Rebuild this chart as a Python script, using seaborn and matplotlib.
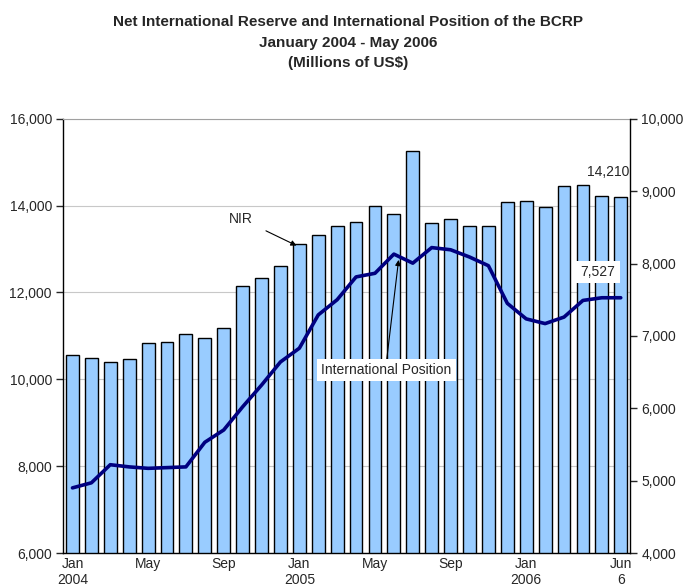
import pandas as pd
import matplotlib
matplotlib.use("Agg")
import matplotlib.pyplot as plt
import seaborn as sns

# Data
months = ["Jan", "Feb", "Mar", "Apr", "May", "Jun", "Jul", "Aug", "Sep", "Oct", "Nov", "Dec",
          "Jan", "Feb", "Mar", "Apr", "May", "Jun", "Jul", "Aug", "Sep", "Oct", "Nov", "Dec",
          "Jan", "Feb", "Mar", "Apr", "May", "Jun"]
years = [2004] * 12 + [2005] * 12 + [2006] * 6
nir = [10560, 10500, 10410, 10470, 10830, 10860, 11040, 10960, 11190, 12150, 12340, 12610,
       13120, 13330, 13540, 13630, 13990, 13810, 15260, 13600, 13700, 13540, 13540, 14080,
       14110, 13960, 14450, 14470, 14230, 14210]
intl_position = [4900, 4970, 5220, 5190, 5170, 5180, 5190, 5530, 5700, 6020, 6320, 6640,
                 6830, 7290, 7500, 7815, 7865, 8130, 8005, 8220, 8190, 8090, 7970, 7450,
                 7235, 7170, 7260, 7490, 7527, 7527]
tick_pos = [0, 4, 8, 12, 16, 20, 24, 29]
tick_labels = ["Jan\n2004", "May", "Sep", "Jan\n2005", "May", "Sep", "Jan\n2006", "Jun\n6"]

df = pd.DataFrame({"idx": range(len(nir)), "month": months, "year": years,
                   "nir": nir, "ip": intl_position})

sns.set_style("white")
plt.rcParams["font.family"] = ["Liberation Sans", "DejaVu Sans"]

fig = plt.figure(figsize=(6.85, 5.88), dpi=100)
ax = fig.add_axes([0.092, 0.0595, 0.828, 0.7385])

sns.barplot(data=df, x="idx", y="nir", color="#99CCFF", edgecolor="black",
            linewidth=1, width=0.68, saturation=1, ax=ax, zorder=2)
ax.set_ylim(6000, 16000)
ax.set_yticks(range(6000, 16001, 2000))
ax.set_yticklabels([f"{v:,}" for v in range(6000, 16001, 2000)], fontsize=10)
ax.yaxis.grid(True, color="#C8C8C8", linewidth=0.8, zorder=0)
ax.set_axisbelow(True)
ax.set_xlim(-0.5, len(nir) - 0.5)
ax.set_xticks(tick_pos)
ax.set_xticklabels(tick_labels, fontsize=10, linespacing=1.2)
ax.tick_params(axis="x", length=0, pad=3)
ax.tick_params(axis="y", length=5, width=1, direction="out", left=True, pad=3)
ax.set_xlabel("")
ax.set_ylabel("")
for s in ["left", "bottom"]:
    ax.spines[s].set_color("black")
    ax.spines[s].set_linewidth(1)
ax.spines["top"].set_color("#A0A0A0")
ax.spines["right"].set_visible(False)

ax2 = ax.twinx()
sns.lineplot(data=df, x="idx", y="ip", color="#000080", linewidth=2.6, ax=ax2, zorder=3)
ax2.set_ylim(4000, 10000)
ax2.set_yticks(range(4000, 10001, 1000))
ax2.set_yticklabels([f"{v:,}" for v in range(4000, 10001, 1000)], fontsize=10)
ax2.tick_params(axis="y", length=5, width=1, direction="out", right=True, pad=3)
ax2.set_ylabel("")
ax2.set_xlabel("")
ax2.set_xlim(-0.5, len(nir) - 0.5)
for s in ["left", "top", "bottom"]:
    ax2.spines[s].set_visible(False)
ax2.spines["right"].set_color("black")
ax2.spines["right"].set_linewidth(1)

# annotations
ax.annotate("NIR", xy=(11.85, nir[12] - 40), xytext=(8.9, 13700), fontsize=10,
            ha="center", va="center",
            arrowprops=dict(arrowstyle="-|>", color="black", lw=0.8, mutation_scale=8,
                            shrinkA=8, shrinkB=0))
ax2.annotate("International Position", xy=(17.25, 8050), xytext=(16.6, 6530),
             fontsize=10, ha="center", va="center",
             bbox=dict(boxstyle="square,pad=0.3", fc="white", ec="none"),
             arrowprops=dict(arrowstyle="-|>", color="black", lw=0.8, mutation_scale=8,
                             shrinkA=0, shrinkB=0, relpos=(0.5, 1.0)))
ax.text(29.45, nir[-1] + 400, f"{nir[-1]:,}", fontsize=10, ha="right", va="bottom")
ax2.text(27.8, 7880, "7,527", fontsize=10, ha="center", va="center",
         bbox=dict(boxstyle="square,pad=0.3", fc="white", ec="none"))

fig.suptitle("Net International Reserve and International Position of the BCRP\n"
             "January 2004 - May 2006\n(Millions of US$)",
             fontsize=11, fontweight="bold", x=0.508, y=0.975, va="top", linespacing=1.62)

fig.savefig("out.png", dpi=100)
